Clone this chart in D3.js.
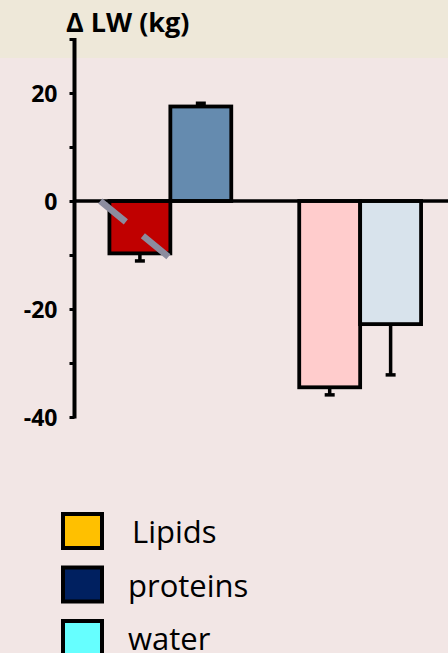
<!DOCTYPE html>
<html><head><meta charset="utf-8">
<script src="https://cdn.jsdelivr.net/npm/d3@7"></script>
<style>html,body{margin:0;padding:0;background:#F2E6E5;}svg{display:block;}</style>
</head><body>
<svg id="c" width="448" height="653"></svg>
<script>
// ---- data ----
const groups = ["G1", "G2"];
const series = ["A", "B"];
const values = [[-9.7, 17.5], [-34.5, -22.8]];
const errors = [[-11.1, 18.1], [-35.9, -32.2]];
const barColors = [["#C00000", "#658BAF"], ["#FFCCCC", "#D8E3EC"]];
const yTicks = [-40, -30, -20, -10, 0, 10, 20, 30];
const yLabels = [-40, -20, 0, 20];
const title = "Δ LW (kg)";
const legendLabels = ["Lipids", "proteins", "water"];
const legendColors = ["#FFC000", "#002060", "#66FFFF"];
// dashed marker across the first bar: [fraction of band, value]
const slashStart = [-0.15, 0.0];
const slashEnd = [1.0, -10.6];

const W = 448, H = 653;
const svg = d3.select("#c");
svg.append("rect").attr("width", W).attr("height", H).attr("fill", "#F2E6E5");
svg.append("rect").attr("width", W).attr("height", 58).attr("fill", "#EEE8D9");

const axisX = 74.5;
const y = d3.scaleLinear().domain([-40, 30]).range([417, 39]);
const x0 = d3.scaleBand().domain(groups).range([axisX, 456]).paddingInner(0.358).paddingOuter(0.184);
const x1 = d3.scaleBand().domain(series).range([0, x0.bandwidth()]);

// bars
groups.forEach((g, gi) => {
  const gEl = svg.append("g").attr("transform", `translate(${x0(g)},0)`);
  series.forEach((s, si) => {
    const v = values[gi][si];
    const e = errors[gi][si];
    const cx = x1(s) + x1.bandwidth() / 2;
    gEl.append("line").attr("x1", cx).attr("x2", cx).attr("y1", y(v)).attr("y2", y(e))
      .attr("stroke", "#000").attr("stroke-width", 3.5);
    gEl.append("line").attr("x1", cx - 5).attr("x2", cx + 5).attr("y1", y(e)).attr("y2", y(e))
      .attr("stroke", "#000").attr("stroke-width", 3.5);
    gEl.append("rect")
      .attr("x", x1(s)).attr("width", x1.bandwidth())
      .attr("y", Math.min(y(v), y(0))).attr("height", Math.abs(y(v) - y(0)))
      .attr("fill", barColors[gi][si]).attr("stroke", "#000").attr("stroke-width", 3.8);
  });
});

// zero line
svg.append("line").attr("x1", axisX).attr("x2", W).attr("y1", y(0)).attr("y2", y(0))
  .attr("stroke", "#000").attr("stroke-width", 3.5);

// dashed slash
svg.append("line")
  .attr("x1", x0(groups[0]) + slashStart[0] * x1.bandwidth()).attr("y1", y(slashStart[1]))
  .attr("x2", x0(groups[0]) + slashEnd[0] * x1.bandwidth()).attr("y2", y(slashEnd[1]))
  .attr("stroke", "#8C8C9E").attr("stroke-width", 6.5).attr("stroke-dasharray", "33 22");

// y axis
const yAxis = d3.axisLeft(y).tickValues(yTicks).tickSize(5)
  .tickFormat(d => yLabels.includes(d) ? d : "");
const ax = svg.append("g").attr("transform", `translate(${axisX},0)`).call(yAxis);
ax.select(".domain").remove();
ax.append("line").attr("x1", 0).attr("x2", 0).attr("y1", y(30) - 1).attr("y2", y(-40) + 1.5)
  .attr("stroke", "#000").attr("stroke-width", 4);
ax.selectAll(".tick line").attr("stroke", "#000").attr("stroke-width", 3);
ax.selectAll(".tick text").attr("x", -17).attr("dy", "0.36em")
  .attr("font-family", "Open Sans").attr("font-weight", "bold").attr("font-size", 23).attr("fill", "#000");

// title
svg.append("text").attr("x", 66).attr("y", 32).text(title)
  .attr("font-family", "Open Sans").attr("font-weight", "bold").attr("font-size", 27).attr("fill", "#000");

// legend
const lg = svg.append("g");
legendLabels.forEach((l, i) => {
  const cy = 531 + i * 53.5;
  lg.append("rect").attr("x", 63).attr("y", cy - 17).attr("width", 39).attr("height", 34)
    .attr("fill", legendColors[i]).attr("stroke", "#000").attr("stroke-width", 4);
  lg.append("text").attr("x", i === 0 ? 132 : 128).attr("y", cy + 12).text(l)
    .attr("font-family", "Open Sans").attr("font-size", 31).attr("fill", "#000");
});
</script>
</body></html>
